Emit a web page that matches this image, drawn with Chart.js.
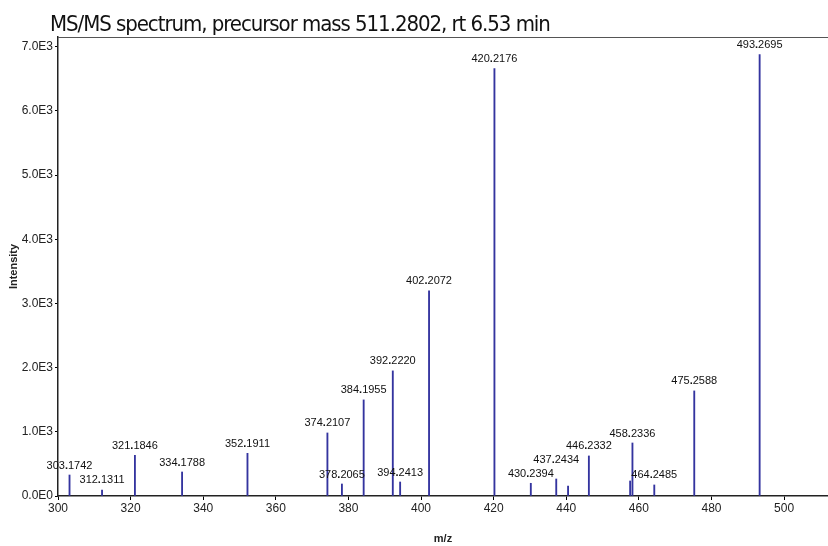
<!DOCTYPE html>
<html>
<head>
<meta charset="utf-8">
<script src="https://cdn.jsdelivr.net/npm/chart.js@4.4.1/dist/chart.umd.min.js"></script>
<style>
  html, body { margin: 0; padding: 0; background: #fff; }
  #wrap { position: relative; width: 828px; height: 546px; }
</style>
</head>
<body>
<div id="wrap"><canvas id="chart" width="828" height="546"></canvas></div>
<script>
// peak list
const mzValues = [303.1742, 312.1311, 321.1846, 334.1788, 352.1911, 374.2107, 378.2065, 384.1955,
  392.2220, 394.2413, 402.2072, 420.2176, 430.2394, 437.2434, 440.5, 446.2332, 457.6, 458.2336,
  464.2485, 475.2588, 493.2695];
const intensities = [327, 94, 634, 374, 665, 982, 187, 1497,
  1949, 218, 3196, 6657, 198, 265, 156, 624, 234, 826,
  172, 1637, 6876];
const peakLabels = ['303.1742', '312.1311', '321.1846', '334.1788', '352.1911', '374.2107', '378.2065', '384.1955',
  '392.2220', '394.2413', '402.2072', '420.2176', '430.2394', '437.2434', '', '446.2332', '', '458.2336',
  '464.2485', '475.2588', '493.2695'];
const xTicks = [300, 320, 340, 360, 380, 400, 420, 440, 460, 480, 500];
const yTicks = [0, 1000, 2000, 3000, 4000, 5000, 6000, 7000];

const titleText = 'MS/MS spectrum, precursor mass 511.2802, rt 6.53 min';
const stickColor = '#34349f';
const labelFont = '11px "Liberation Sans", Arial, sans-serif';
const labelFontBold = 'bold 11px "Liberation Sans", Arial, sans-serif';

// title, top frame line and peak labels
const decorPlugin = {
  id: 'decor',
  afterDraw(chart) {
    const ctx = chart.ctx;
    const area = chart.chartArea;
    ctx.save();
    ctx.strokeStyle = '#555';
    ctx.lineWidth = 1;
    ctx.beginPath();
    ctx.moveTo(area.left, area.top + 0.5);
    ctx.lineTo(area.right, area.top + 0.5);
    ctx.stroke();

    // title with the tight letter spacing of the original
    ctx.fillStyle = '#111';
    ctx.font = '22px "DejaVu Sans Condensed", "DejaVu Sans", sans-serif';
    ctx.textBaseline = 'alphabetic';
    ctx.textAlign = 'left';
    const natural = ctx.measureText(titleText).width;
    const spacing = (501 - natural) / (titleText.length - 1);
    ctx.letterSpacing = spacing.toFixed(2) + 'px';
    ctx.fillText(titleText, 50, 31);
    ctx.letterSpacing = '0px';

    // peak labels, bumped up when they would overlap a label already drawn
    const meta = chart.getDatasetMeta(0);
    const placed = [];
    ctx.textBaseline = 'bottom';
    meta.data.forEach((bar, i) => {
      const txt = peakLabels[i];
      if (!txt) return;
      const parts = txt.split('.');
      ctx.font = labelFont;
      const w0 = ctx.measureText(parts[0]).width;
      const w2 = ctx.measureText(parts[1]).width;
      ctx.font = labelFontBold;
      const w1 = ctx.measureText('.').width;
      const w = w0 + w1 + w2;
      const x = bar.x - w / 2;
      let y = bar.y - 4;
      const h = 12;
      placed.forEach(p => {
        if (x < p.x + p.w && x + w > p.x && y > p.y - h && y - h < p.y) {
          y = p.y - h - 2;
        }
      });
      placed.push({ x, y, w });
      ctx.font = labelFont;
      ctx.fillText(parts[0], x, y);
      ctx.font = labelFontBold;
      ctx.fillText('.', x + w0, y);
      ctx.font = labelFont;
      ctx.fillText(parts[1], x + w0 + w1, y);
    });
    ctx.restore();
  }
};

new Chart(document.getElementById('chart'), {
  type: 'bar',
  data: {
    datasets: [{
      data: mzValues.map((m, i) => ({ x: m, y: intensities[i] })),
      backgroundColor: stickColor,
      borderWidth: 0,
      barThickness: 1.2
    }]
  },
  options: {
    responsive: false,
    animation: false,
    events: [],
    layout: { padding: { top: 37, right: 0, left: 0, bottom: 0 } },
    plugins: {
      legend: { display: false },
      title: { display: false },
      tooltip: { enabled: false }
    },
    scales: {
      x: {
        type: 'linear',
        min: 300,
        max: 512.1,
        offset: false,
        grid: { display: true, offset: false, drawOnChartArea: false, drawTicks: true, tickLength: 4, color: '#000' },
        border: { display: true, color: '#222', width: 1.5 },
        afterBuildTicks: (scale) => { scale.ticks = xTicks.map(v => ({ value: v })); },
        afterFit: (scale) => { scale.height = 50; },
        ticks: {
          color: '#222',
          padding: 1,
          maxRotation: 0,
          autoSkip: false,
          font: { family: '"Liberation Sans", Arial, sans-serif', size: 12 }
        },
        title: {
          display: true,
          text: 'm/z',
          color: '#222',
          padding: { top: 0, bottom: 0 },
          font: { family: '"Liberation Sans", Arial, sans-serif', size: 11, weight: 'bold' }
        }
      },
      y: {
        min: 0,
        max: 7150,
        grid: { display: true, drawOnChartArea: false, drawTicks: true, tickLength: 3, color: '#000' },
        border: { display: true, color: '#222', width: 1.5 },
        afterBuildTicks: (scale) => { scale.ticks = yTicks.map(v => ({ value: v })); },
        afterFit: (scale) => { scale.width = 58; },
        ticks: {
          color: '#222',
          padding: 2,
          font: { family: '"Liberation Sans", Arial, sans-serif', size: 12 },
          callback: (v) => v === 0 ? '0.0E0' : (v / 1000).toFixed(1) + 'E3'
        },
        title: {
          display: true,
          text: 'Intensity',
          color: '#222',
          padding: { top: 7, bottom: 0 },
          font: { family: '"Liberation Sans", Arial, sans-serif', size: 11, weight: 'bold' }
        }
      }
    }
  },
  plugins: [decorPlugin]
});
</script>
</body>
</html>
